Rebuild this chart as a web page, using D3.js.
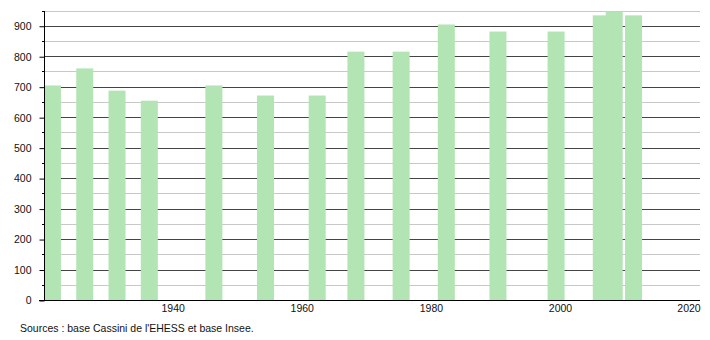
<!DOCTYPE html>
<html>
<head>
<meta charset="utf-8">
<script src="https://cdn.jsdelivr.net/npm/d3@7"></script>
<style>
  body { margin: 0; background: white; }
  text { font-family: "Liberation Sans", Arial, sans-serif; font-size: 10.5px; fill: #111; }
</style>
</head>
<body>
<div id="chart"></div>
<script>
const years = [1921, 1926, 1931, 1936, 1946, 1954, 1962, 1968, 1975, 1982, 1990, 1999, 2006, 2008, 2011]
const population = [704, 760, 687, 654, 704, 671, 671, 815, 815, 904, 881, 881, 934, 947, 934]
const xTicks = [1940, 1960, 1980, 2000, 2020]
const yTicks = [0, 100, 200, 300, 400, 500, 600, 700, 800, 900]
const yMinor = [50, 150, 250, 350, 450, 550, 650, 750, 850, 950]
const source = 'Sources : base Cassini de l\'EHESS et base Insee.'

const width = 710
const height = 340
const plotLeft = 44
const plotRight = 700
const plotTop = 10.5
const plotBottom = 300
const barWidth = 17

const x = d3.scaleLinear().domain([1920, 2021.6]).range([plotLeft, plotRight])
const y = d3.scaleLinear().domain([0, 950]).range([plotBottom, plotTop])

const svg = d3.select('#chart')
  .append('svg')
  .attr('width', width)
  .attr('height', height)

// grid: light at the half hundreds, dark at the hundreds
svg.append('g')
  .selectAll('line')
  .data(yMinor)
  .join('line')
  .attr('x1', plotLeft).attr('x2', plotRight)
  .attr('y1', d => Math.round(y(d)) + 0.5)
  .attr('y2', d => Math.round(y(d)) + 0.5)
  .attr('stroke', '#c8c8c8')

svg.append('g')
  .selectAll('line')
  .data(yTicks.filter(d => d > 0))
  .join('line')
  .attr('x1', plotLeft).attr('x2', plotRight)
  .attr('y1', d => Math.round(y(d)) + 0.5)
  .attr('y2', d => Math.round(y(d)) + 0.5)
  .attr('stroke', '#444')

svg.append('g')
  .selectAll('rect')
  .data(years)
  .join('rect')
  .attr('x', d => x(d) - barWidth / 2 + 2)
  .attr('width', barWidth)
  .attr('y', (d, i) => y(population[i]))
  .attr('height', (d, i) => y(0) - y(population[i]))
  .attr('fill', '#b3e4b3')

// y axis with small minor ticks
const yAxis = svg.append('g')
  .attr('transform', `translate(${plotLeft + 0.5},0.5)`)
  .call(d3.axisLeft(y).tickValues(yTicks).tickSize(5).tickSizeOuter(0).tickPadding(8))
yAxis.select('.domain').attr('stroke', '#000').attr('d', `M0,${plotTop}V${plotBottom}`)
yAxis.selectAll('.tick line').attr('stroke', '#000')
yAxis.selectAll('text').attr('font-size', null).attr('font-family', null).attr('fill', null)

svg.append('g')
  .selectAll('line')
  .data(yMinor)
  .join('line')
  .attr('x1', plotLeft - 2).attr('x2', plotLeft)
  .attr('y1', d => Math.round(y(d)) + 0.5)
  .attr('y2', d => Math.round(y(d)) + 0.5)
  .attr('stroke', '#000')

// x axis baseline and labels
svg.append('line')
  .attr('x1', plotLeft - 5).attr('x2', plotRight)
  .attr('y1', plotBottom + 0.5).attr('y2', plotBottom + 0.5)
  .attr('stroke', '#000')

svg.append('g')
  .selectAll('text')
  .data(xTicks)
  .join('text')
  .attr('x', d => Math.min(x(d), plotRight - 11))
  .attr('y', plotBottom + 12)
  .attr('text-anchor', 'middle')
  .text(d => d)

svg.append('text')
  .attr('x', 20)
  .attr('y', 332)
  .text(source)
</script>
</body>
</html>
